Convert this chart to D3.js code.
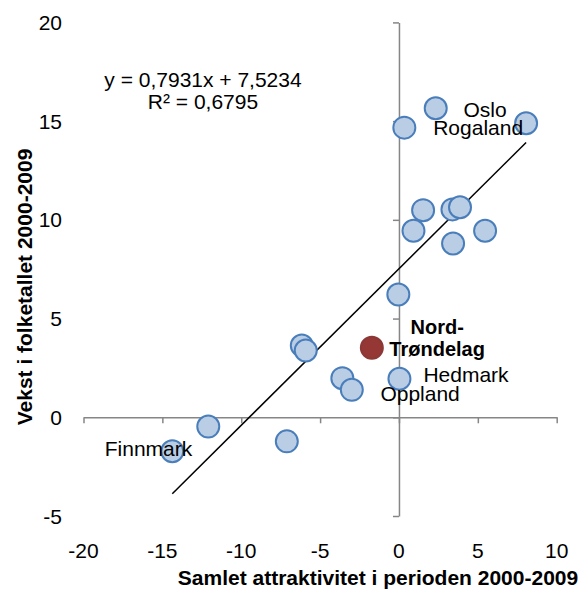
<!DOCTYPE html>
<html>
<head>
<meta charset="utf-8">
<script src="https://cdn.jsdelivr.net/npm/d3@7"></script>
<style>
  body { margin: 0; background: #fff; }
  text { font-family: "Liberation Sans", Arial, sans-serif; fill: #000; }
</style>
</head>
<body>
<svg id="chart" width="584" height="589"></svg>
<script>
// attraktivitet (x) and befolkningsvekst (y) per fylke, 2000-2009
const attraktivitet = [0.34, 2.33, 8.06, 1.53, 0.92, 3.39, 3.87, 3.43, 5.46, -0.04,
  -6.16, -5.91, -3.59, -2.99, 0.03, -12.09, -14.37, -7.11];
const vekst = [14.67, 15.65, 14.89, 10.49, 9.45, 10.53, 10.64, 8.80, 9.45, 6.22,
  3.63, 3.38, 1.98, 1.39, 1.95, -0.47, -1.72, -1.22];
const highlight = { name: "Nord-Trøndelag", x: -1.72, y: 3.52 };

const xTicks = [-20, -15, -10, -5, 0, 5, 10];
const yTicks = [-5, 0, 5, 10, 15, 20];

// trendline from the original chart
const slope = 0.7931, intercept = 7.5234;
const equation = ["y = 0,7931x + 7,5234", "R² = 0,6795"];

// name labels, anchored in data units
const labels = [
  { text: "Oslo", x: 5.46, y: 15.21, bold: false },
  { text: "Rogaland", x: 5.02, y: 14.29, bold: false },
  { text: "Finnmark", x: -15.88, y: -1.98, bold: false },
  { text: "Nord-", x: 2.42, y: 4.24, bold: true },
  { text: "Trøndelag", x: 2.42, y: 3.09, bold: true },
  { text: "Hedmark", x: 4.25, y: 1.77, bold: false },
  { text: "Oppland", x: 1.34, y: 0.80, bold: false }
];

const svg = d3.select("#chart");
const x = d3.scaleLinear().domain([-20, 10]).range([83.5, 556.7]);
const y = d3.scaleLinear().domain([-5, 20]).range([516, 22.4]);
const axisColor = "#868686";

// x axis on y = 0
const xAxis = svg.append("g")
  .attr("transform", `translate(0,${y(0)})`)
  .call(d3.axisBottom(x).tickValues(xTicks).tickSize(6).tickSizeOuter(0).tickFormat(""));
// y axis on x = 0
const yAxis = svg.append("g")
  .attr("transform", `translate(${x(0)},0)`)
  .call(d3.axisLeft(y).tickValues(yTicks).tickSize(6).tickSizeOuter(0).tickFormat(""));
[xAxis, yAxis].forEach(g => {
  g.select(".domain").attr("stroke", axisColor).attr("stroke-width", 1.5);
  g.selectAll(".tick line").attr("stroke", axisColor).attr("stroke-width", 1.5);
});

// tick labels sit at the plot edges
svg.append("g").selectAll("text").data(xTicks).join("text")
  .attr("x", d => x(d)).attr("y", 558)
  .attr("text-anchor", "middle").attr("font-size", 21)
  .text(d => d);
svg.append("g").selectAll("text").data(yTicks).join("text")
  .attr("x", 62).attr("y", d => y(d) + 7.5)
  .attr("text-anchor", "end").attr("font-size", 21)
  .text(d => d);

// trendline across the data range
const xExt = d3.extent(attraktivitet);
svg.append("line")
  .attr("x1", x(xExt[0])).attr("y1", y(slope * xExt[0] + intercept))
  .attr("x2", x(xExt[1])).attr("y2", y(slope * xExt[1] + intercept))
  .attr("stroke", "#000").attr("stroke-width", 1.5);

// points
svg.append("g").selectAll("circle").data(attraktivitet).join("circle")
  .attr("cx", d => x(d)).attr("cy", (d, i) => y(vekst[i]))
  .attr("r", 11)
  .attr("fill", "#b9cde5").attr("stroke", "#4a7ebb").attr("stroke-width", 2);
svg.append("circle")
  .attr("cx", x(highlight.x)).attr("cy", y(highlight.y)).attr("r", 11)
  .attr("fill", "#953735").attr("stroke", "#8c3836").attr("stroke-width", 2);

// labels
svg.append("g").selectAll("text").data(labels).join("text")
  .attr("x", d => x(d.x)).attr("y", d => y(d.y))
  .attr("text-anchor", "middle")
  .attr("font-size", d => d.bold ? 20 : 21)
  .attr("font-weight", d => d.bold ? "bold" : "normal")
  .text(d => d.text);

// regression equation
svg.append("g").selectAll("text").data(equation).join("text")
  .attr("x", 203).attr("y", (d, i) => 87 + i * 22)
  .attr("text-anchor", "middle").attr("font-size", 21)
  .text(d => d);

// axis titles
svg.append("text")
  .attr("x", 378).attr("y", 585)
  .attr("text-anchor", "middle").attr("font-size", 21).attr("font-weight", "bold")
  .text("Samlet attraktivitet i perioden 2000-2009");
svg.append("text")
  .attr("transform", "translate(32,287) rotate(-90)")
  .attr("text-anchor", "middle").attr("font-size", 21).attr("font-weight", "bold")
  .text("Vekst i folketallet 2000-2009");
</script>
</body>
</html>
